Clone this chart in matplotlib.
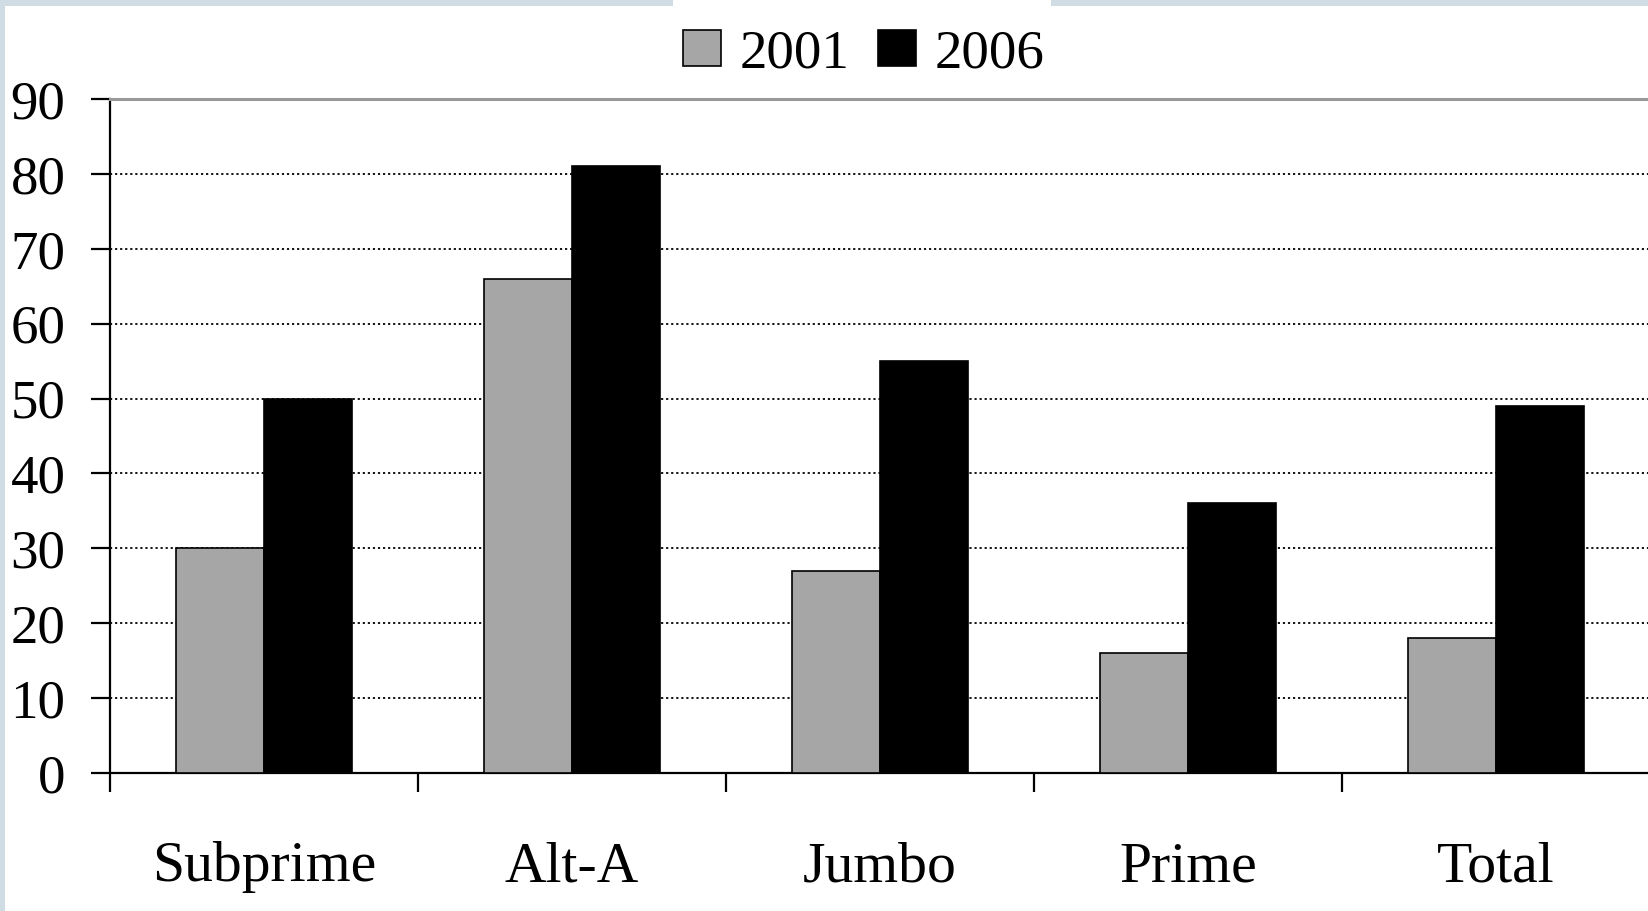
import matplotlib
matplotlib.use("Agg")
import matplotlib.pyplot as plt
from matplotlib.patches import Rectangle, Patch
import numpy as np

categories = ["Subprime", "Alt-A", "Jumbo", "Prime", "Total"]
series_names = ["2001", "2006"]
values_2001 = [30, 66, 27, 16, 18]
values_2006 = [50, 81, 55, 36, 49]
yticks = [0, 10, 20, 30, 40, 50, 60, 70, 80, 90]

W, H = 1648, 911
plt.rcParams['font.family'] = ['Liberation Serif', 'DejaVu Serif']
fig = plt.figure(figsize=(W / 100, H / 100), dpi=100, facecolor='#d0dce3')

# white panel
fig.patches.append(Rectangle((5 / W, 0), 1, 1 - 6 / H, transform=fig.transFigure,
                             facecolor='white', edgecolor='none', zorder=-10))
# legend white background reaching the top edge
fig.patches.append(Rectangle((673 / W, 1 - 110 / H), (1051 - 673) / W, 110 / H,
                             transform=fig.transFigure, facecolor='white',
                             edgecolor='none', zorder=-9))

ax = fig.add_axes([110 / W, 1 - 773 / H, 1540 / W, (773 - 99) / H])
ax.set_facecolor('none')

x = np.arange(len(categories))
w = 0.285
ax.bar(x - w / 2, values_2001, w, color='#a6a6a6', edgecolor='black', linewidth=1.2, zorder=3)
ax.bar(x + w / 2, values_2006, w, color='black', edgecolor='black', linewidth=1.2, zorder=3)

ax.set_xlim(-0.5, len(categories) - 0.5)
ax.set_ylim(0, 90)
ax.set_yticks(yticks)
ax.set_yticklabels([str(v) for v in yticks], fontsize=39.5)

for v in yticks[1:-1]:
    ax.axhline(v, color='black', linewidth=1.3, linestyle=(0, (1.2, 1.6)), zorder=1)

ax.set_xticks(x)
ax.set_xticklabels(categories, fontsize=41.5)
ax.set_xticks(np.arange(len(categories)) - 0.5, minor=True)
ax.tick_params(axis='x', which='major', length=0, pad=49)
ax.tick_params(axis='x', which='minor', length=14, width=1.6, direction='out', color='black')
ax.tick_params(axis='y', which='major', length=14, width=1.6, direction='out', pad=18)

ax.spines['right'].set_visible(False)
ax.spines['top'].set_color('#999999')
ax.spines['top'].set_linewidth(2.2)
ax.spines['left'].set_linewidth(1.6)
ax.spines['bottom'].set_linewidth(1.6)

handles = [Patch(facecolor='#a6a6a6', edgecolor='black', linewidth=1.2),
           Patch(facecolor='black', edgecolor='black', linewidth=1.2)]
fig.legend(handles, series_names, loc='center', bbox_to_anchor=(864 / W, 1 - 54 / H),
           ncol=2, frameon=False, fontsize=39.5, handlelength=0.68, handleheight=0.66,
           handletextpad=0.35, columnspacing=0.52, borderpad=0)

fig.savefig('out.png', dpi=100, facecolor=fig.get_facecolor())
